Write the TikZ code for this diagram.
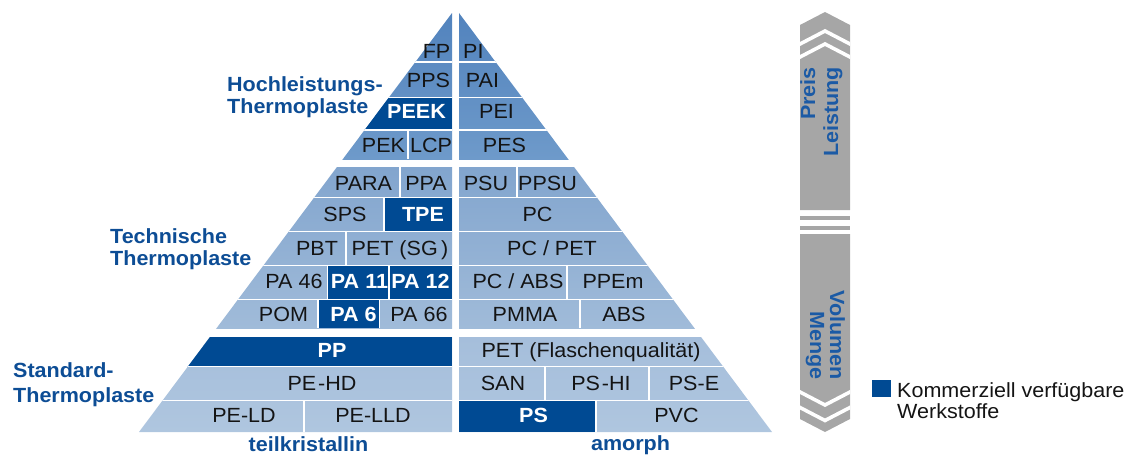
\documentclass[tikz,border=0pt]{standalone}
\usepackage{fontspec}
\setmainfont{Liberation Sans}[FakeStretch=1.05]
\definecolor{hotblue}{HTML}{004A93}
\definecolor{grpblue}{HTML}{0D4D95}
\definecolor{barblue}{HTML}{1B5AA5}
\definecolor{bargray}{HTML}{A6A6A6}
\definecolor{celltxt}{HTML}{141414}
\definecolor{hlA}{HTML}{5283BD}
\definecolor{hlB}{HTML}{6E9ACA}
\definecolor{tkA}{HTML}{82A5CE}
\definecolor{tkB}{HTML}{A0BBD9}
\definecolor{stA}{HTML}{A5BEDB}
\definecolor{stB}{HTML}{AFC6DF}
\begin{document}
\begin{tikzpicture}[x=1pt,y=-1pt,
  lbl/.style={inner sep=0pt, anchor=base, text=celltxt, font=\fontsize{20.5}{24}\selectfont},
  hot/.style={inner sep=0pt, anchor=base, text=white, font=\fontsize{20.5}{24}\selectfont\bfseries},
  grp/.style={inner sep=0pt, anchor=base west, text=grpblue, font=\fontsize{20.5}{24}\selectfont\bfseries},
  axislbl/.style={inner sep=0pt, anchor=base east, text=barblue, font=\fontsize{20.5}{24}\selectfont\bfseries},
  sep/.style={draw=white, line width=1.6pt},
  chev/.style={draw=white, line width=3.6pt},
]
\useasboundingbox (0,0) rectangle (1125,455);

% ---------- pyramid: two halves ----------
\begin{scope}
  \clip (452,13) -- (139,432) -- (452,432) -- cycle
        (459,13) -- (459,432) -- (772,432) -- cycle;
  % three groups, each with its own vertical shading
  \shade[top color=hlA, bottom color=hlB] (130,13) rectangle (780,159);
  \shade[top color=tkA, bottom color=tkB] (130,167) rectangle (780,328);
  \shade[top color=stA, bottom color=stB] (130,337) rectangle (780,432);
  % commercially available materials
  \fill[hotblue] (130,97.5) rectangle (452,130);     % PEEK
  \fill[hotblue] (384,197.5) rectangle (452,231.5);  % TPE
  \fill[hotblue] (328,265.5) rectangle (452,299.5);  % PA 11, PA 12
  \fill[hotblue] (318,299.5) rectangle (379.5,328);  % PA 6
  \fill[hotblue] (130,337) rectangle (452,366.5);    % PP
  \fill[hotblue] (459,400.5) rectangle (596,432);    % PS
  % row separators
  \foreach \y in {62,97.5,130,197.5,231.5,265.5,299.5,366.5,400.5}
    \draw[sep] (130,\y) -- (780,\y);
  % cell separators, left half
  \draw[sep] (408,130) -- (408,159);
  \draw[sep] (400,167) -- (400,197.5);
  \draw[sep] (384,197.5) -- (384,231.5);
  \draw[sep] (346,231.5) -- (346,265.5);
  \draw[sep] (327.5,265.5) -- (327.5,299.5);
  \draw[sep] (389,265.5) -- (389,299.5);
  \draw[sep] (318,299.5) -- (318,328);
  \draw[sep] (379.5,299.5) -- (379.5,328);
  \draw[sep] (304,400.5) -- (304,432);
  % cell separators, right half
  \draw[sep] (517,167) -- (517,197.5);
  \draw[sep] (567,265.5) -- (567,299.5);
  \draw[sep] (580,299.5) -- (580,328);
  \draw[sep] (545,366.5) -- (545,400.5);
  \draw[sep] (649,366.5) -- (649,400.5);
  \draw[sep] (596,400.5) -- (596,432);
\end{scope}

% ---------- cell labels ----------
% high-performance
\node[lbl, anchor=base east] (fp) at (450.5,58) {FP};
\node[lbl, anchor=base west] (pi) at (463,58) {PI};
\node[lbl] (pps) at (428.5,87) {PPS};
\node[lbl] (pai) at (482.5,87) {PAI};
\node[hot] (peek) at (416.5,118) {PEEK};
\node[lbl] (pei) at (496.5,118) {PEI};
\node[lbl] (pek) at (383.5,152) {PEK};
\node[lbl] (lcp) at (431,152) {LCP};
\node[lbl] (pes) at (504.5,152) {PES};
% engineering
\node[lbl] (para) at (363.5,190) {PARA};
\node[lbl] (ppa) at (426,190) {PPA};
\node[lbl] (psu) at (486,190) {PSU};
\node[lbl] (ppsu) at (547.5,190) {PPSU};
\node[lbl] (sps) at (345,221) {SPS};
\node[hot] (tpe) at (423,221) {TPE};
\node[lbl] (pc) at (537.5,221) {PC};
\node[lbl] (pbt) at (317,255.5) {PBT};
\node[lbl] (petsg) at (400,255.5) {PET (SG\,)};
\node[lbl] (pcpet) at (552,255.5) {PC / PET};
\node[lbl] (pa46) at (294,288) {PA 46};
\node[hot] (pa11) at (359.5,288) {PA 11};
\node[hot] (pa12) at (420.5,288) {PA 12};
\node[lbl] (pcabs) at (518,288) {PC / ABS};
\node[lbl] (ppem) at (613,288) {PPEm};
\node[lbl] (pom) at (283.5,321) {POM};
\node[hot] (pa6) at (353.5,321) {PA 6};
\node[lbl] (pa66) at (419,321) {PA 66};
\node[lbl] (pmma) at (525,321) {PMMA};
\node[lbl] (abs) at (624,321) {ABS};
% standard
\node[hot] (pp) at (332,357) {PP};
\node[lbl] (petfl) at (591,357) {PET (Flaschenqualität)};
\node[lbl] (pehd) at (322,390) {PE\kern2pt-HD};
\node[lbl] (san) at (503,390) {SAN};
\node[lbl] (pshi) at (601,390) {PS\kern2pt-HI};
\node[lbl] (pse) at (694,390) {PS-E};
\node[lbl] (peld) at (244,422) {PE-LD};
\node[lbl] (pelld) at (373,422) {PE-LLD};
\node[hot] (ps) at (533.5,422) {PS};
\node[lbl] (pvc) at (676.5,422) {PVC};

% ---------- column captions ----------
\node[grp, anchor=base, text=grpblue] (teil) at (308.5,451) {teilkristallin};
\node[grp, anchor=base, text=grpblue] (amor) at (630.5,450) {amorph};

% ---------- group captions ----------
\node[grp] (hl1) at (227,91) {Hochleistungs-};
\node[grp] (hl2) at (227,113.5) {Thermoplaste};
\node[grp] (tk1) at (110,243) {Technische};
\node[grp] (tk2) at (110,265) {Thermoplaste};
\node[grp] (st1) at (13,377) {Standard-};
\node[grp] (st2) at (13,402) {Thermoplaste};

% ---------- double arrow bar ----------
\begin{scope}
  \clip (800,0) rectangle (850,455);
  \fill[bargray] (800,25) -- (825,12) -- (850,25) -- (850,210) -- (800,210) -- cycle;
  \draw[chev] (790,49.2) -- (825,31) -- (860,49.2);
  \draw[chev] (790,62.2) -- (825,44) -- (860,62.2);
  \fill[bargray] (800,216) rectangle (850,220);
  \fill[bargray] (800,226) rectangle (850,229.5);
  \fill[bargray] (800,234) -- (850,234) -- (850,419) -- (825,432) -- (800,419) -- cycle;
  \draw[chev] (790,386.8) -- (825,405) -- (860,386.8);
  \draw[chev] (790,402.3) -- (825,420.5) -- (860,402.3);
\end{scope}
\node[axislbl, rotate=90] (preis) at (815,67) {Preis};
\node[axislbl, rotate=90] (leist) at (838,67) {Leistung};
\node[axislbl, rotate=-90] (vol) at (830,380) {Volumen};
\node[axislbl, rotate=-90] (menge) at (810,380) {Menge};

% ---------- legend ----------
\fill[hotblue] (872,380) rectangle (891,397);
\node[lbl, anchor=base west] (leg1) at (897,397) {Kommerziell verfügbare};
\node[lbl, anchor=base west] (leg2) at (897,418) {Werkstoffe};
\end{tikzpicture}
\end{document}
